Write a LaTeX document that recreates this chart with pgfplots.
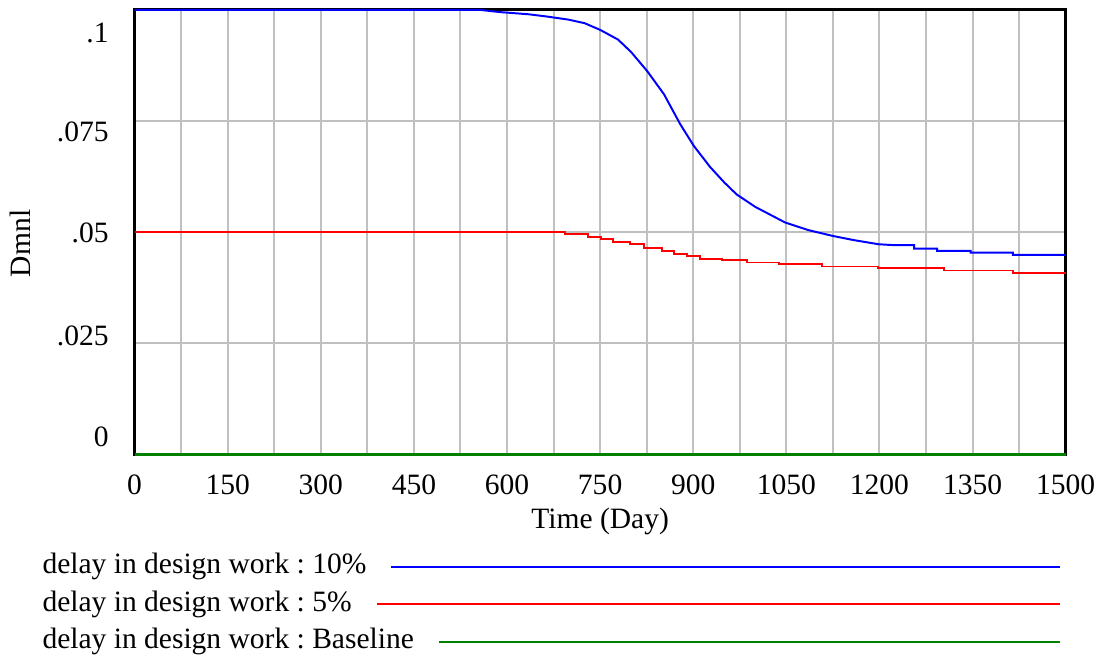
\documentclass[border=0pt]{standalone}
\usepackage{fontspec}
\setmainfont{Liberation Serif}
\usepackage{pgfplots}
\pgfplotsset{compat=1.18}

\definecolor{gridgray}{RGB}{192,192,192}
\definecolor{vgreen}{RGB}{0,128,0}

\begin{document}
\frenchspacing
\fontsize{15}{18}\selectfont
\begin{tikzpicture}[font=\fontsize{15}{18}\selectfont]
\begin{axis}[
    scale only axis,
    width=473pt, height=226pt,
    xmin=0, xmax=1500, ymin=0, ymax=0.1,
    clip=false,
    axis line style={line width=1.5pt, black},
    xtick={0,150,...,1500},
    minor xtick={75,225,...,1425},
    ytick={0,0.025,0.05,0.075,0.1},
    yticklabels={},
    extra y ticks={0.004,0.0268,0.0498,0.0725,0.0949},
    extra y tick labels={0,.025,.05,.075,.1},
    extra y tick style={grid=none},
    grid=both,
    major grid style={gridgray, line width=1pt},
    minor grid style={gridgray, line width=1pt},
    tick style={draw=none},
    xticklabel style={/pgf/number format/1000 sep={}, /pgf/number format/assume math mode=true, yshift=-5pt},
    yticklabel style={xshift=-8pt},
    tick label style={font=\fontsize{15}{18}\selectfont},
    xlabel={Time (Day)},
    ylabel={Dmnl},
    xlabel style={at={(axis description cs:0.5,-0.15)}, anchor=center},
    ylabel style={at={(axis description cs:-0.123,0.475)}, anchor=center},
    label style={font=\fontsize{15}{18}\selectfont},
]

% delay in design work : 10%
\addplot[blue, line width=1pt] coordinates {
    (0,0.1) (556,0.1) (588,0.0995) (635,0.099) (664,0.0985) (699,0.0978)
    (725,0.097) (750,0.0955) (779,0.0933) (800,0.0905) (826,0.0862)
    (853,0.081) (879,0.0743) (901,0.0694) (927,0.0647) (950,0.0612)
    (970,0.0585) (1000,0.0557) (1048,0.0522) (1085,0.0505) (1124,0.0492)
    (1160,0.0482) (1199,0.0473) (1224,0.0471)
    (1256,0.0471) (1256,0.0463) (1293,0.0463) (1293,0.0458)
    (1347,0.0458) (1347,0.0454) (1415,0.0454) (1415,0.0449) (1500,0.0449)
};

% delay in design work : 5%
\addplot[red, line width=1pt, const plot] coordinates {
    (0,0.05) (694,0.0496) (731,0.049) (751,0.0485) (771,0.0479)
    (798,0.0473) (821,0.0464) (850,0.0457) (869,0.0451) (890,0.0446)
    (911,0.044) (946,0.0437) (986,0.0432) (1038,0.0428) (1108,0.0423)
    (1197,0.0419) (1304,0.0414) (1415,0.0409) (1500,0.0409)
};

% delay in design work : Baseline
\addplot[vgreen, line width=1.3pt] coordinates {
    (0,0) (1500,0)
};
\end{axis}

\node[anchor=west, inner sep=0pt] (l1) at (-47pt,-57pt) {delay in design work : 10\%};
\draw[blue, line width=1pt] ([xshift=12.5pt]l1.east) -- (470pt,-57pt);
\node[anchor=west, inner sep=0pt] (l2) at (-47pt,-76pt) {delay in design work : 5\%};
\draw[red, line width=1pt] ([xshift=12.5pt]l2.east) -- (470pt,-76pt);
\node[anchor=west, inner sep=0pt] (l3) at (-47pt,-95pt) {delay in design work : Baseline};
\draw[vgreen, line width=1pt] ([xshift=12.5pt]l3.east) -- (470pt,-95pt);
\end{tikzpicture}
\end{document}
